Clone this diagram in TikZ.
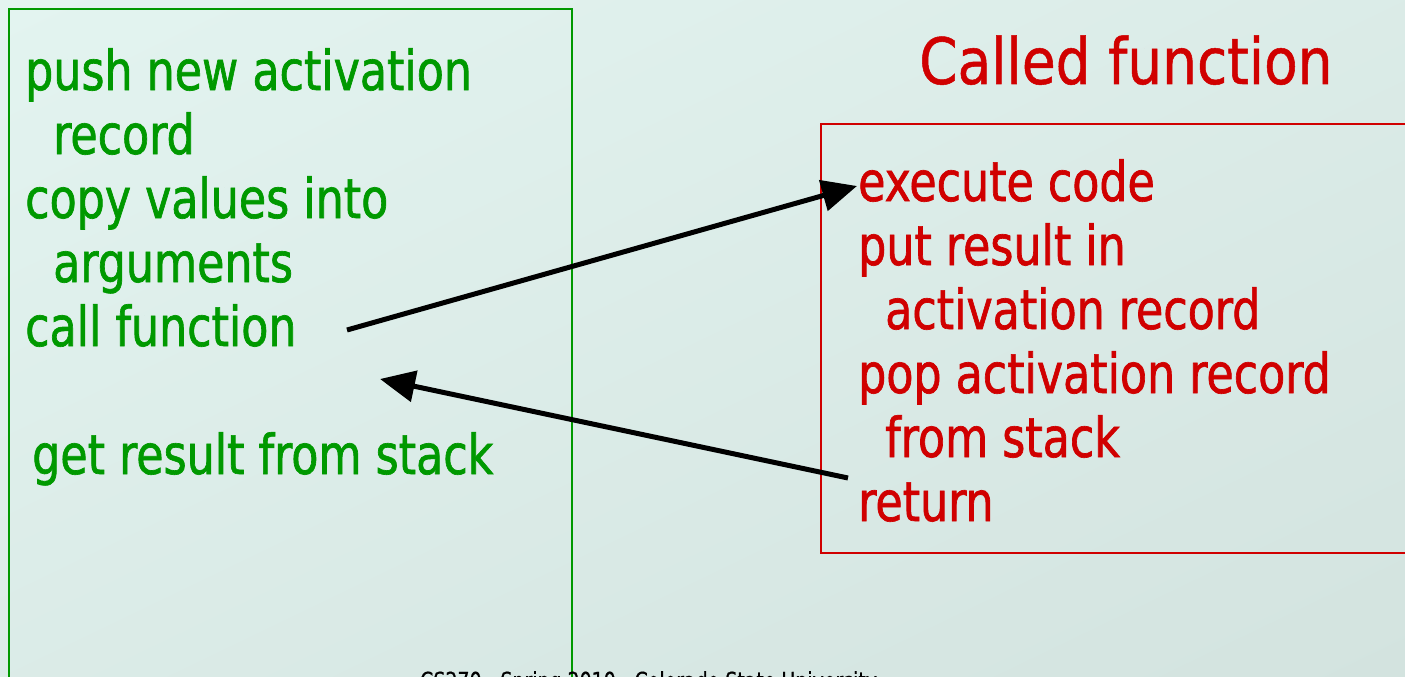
\documentclass[tikz,border=0pt]{standalone}
\usepackage{fontspec}
\usetikzlibrary{arrows.meta,shadings}
\newfontfamily\bodyfont[FakeStretch=0.896, FakeBold=1.2]{DejaVu Sans Condensed}
\newfontfamily\headfont[FakeStretch=0.955, FakeBold=0.8]{DejaVu Sans Condensed}
\newfontfamily\footfont[FakeStretch=0.896, FakeBold=0.6]{DejaVu Sans Condensed}
\definecolor{callergreen}{HTML}{009900}
\definecolor{calleered}{HTML}{D00000}
\definecolor{bgtl}{HTML}{E3F4F0}
\definecolor{bgbr}{HTML}{D3E3DF}
\tikzset{
  caller/.style={anchor=base west, inner sep=0pt, text=callergreen,
    font=\bodyfont\fontsize{55}{64}\selectfont},
  callee/.style={anchor=base west, inner sep=0pt, text=calleered,
    font=\bodyfont\fontsize{55}{64}\selectfont},
  flow/.style={line width=5pt, -{Triangle[length=35pt,width=31pt]}},
}
\begin{document}
\begin{tikzpicture}[x=1pt, y=-1pt]
  \clip (0,0) rectangle (1405,677);
  \shade[upper left=bgtl, upper right=bgtl!50!bgbr, lower left=bgtl!50!bgbr, lower right=bgbr]
    (0,0) rectangle (1405,677);

  % caller frame
  \draw[callergreen, line width=2pt] (9,9) rectangle (572,700);
  \node[caller] (c1) at (25,90)  {push new activation};
  \node[caller] (c2) at (53,154) {record};
  \node[caller] (c3) at (25,218) {copy values into};
  \node[caller] (c4) at (53,282) {arguments};
  \node[caller] (c5) at (25,346) {call function};
  \node[caller] (c6) at (32,474) {get result from stack};

  % called function frame
  \node[anchor=base west, inner sep=0pt, text=calleered,
        font=\headfont\fontsize{64}{72}\selectfont] (title) at (919,84) {Called function};
  \draw[calleered, line width=2pt] (821,124) rectangle (1420,553);
  \node[callee] (r1) at (858,201) {execute code};
  \node[callee] (r2) at (858,265) {put result in};
  \node[callee] (r3) at (885,329) {activation record};
  \node[callee] (r4) at (858,393) {pop activation record};
  \node[callee] (r5) at (885,457) {from stack};
  \node[callee] (r6) at (858,521) {return};

  % call and return transfers
  \coordinate (callout) at (347,330);
  \coordinate (callin)  at (857,186);
  \coordinate (retout)  at (848,478);
  \coordinate (retin)   at (380,379);
  \draw[flow] (callout) -- (callin);
  \draw[flow] (retout) -- (retin);

  % footer
  \node[anchor=base west, inner sep=0pt, text=black,
        font=\footfont\fontsize{23.5}{28}\selectfont] (foot) at (420,689)
        {CS270 - Spring 2010 - Colorado State University};
\end{tikzpicture}
\end{document}
